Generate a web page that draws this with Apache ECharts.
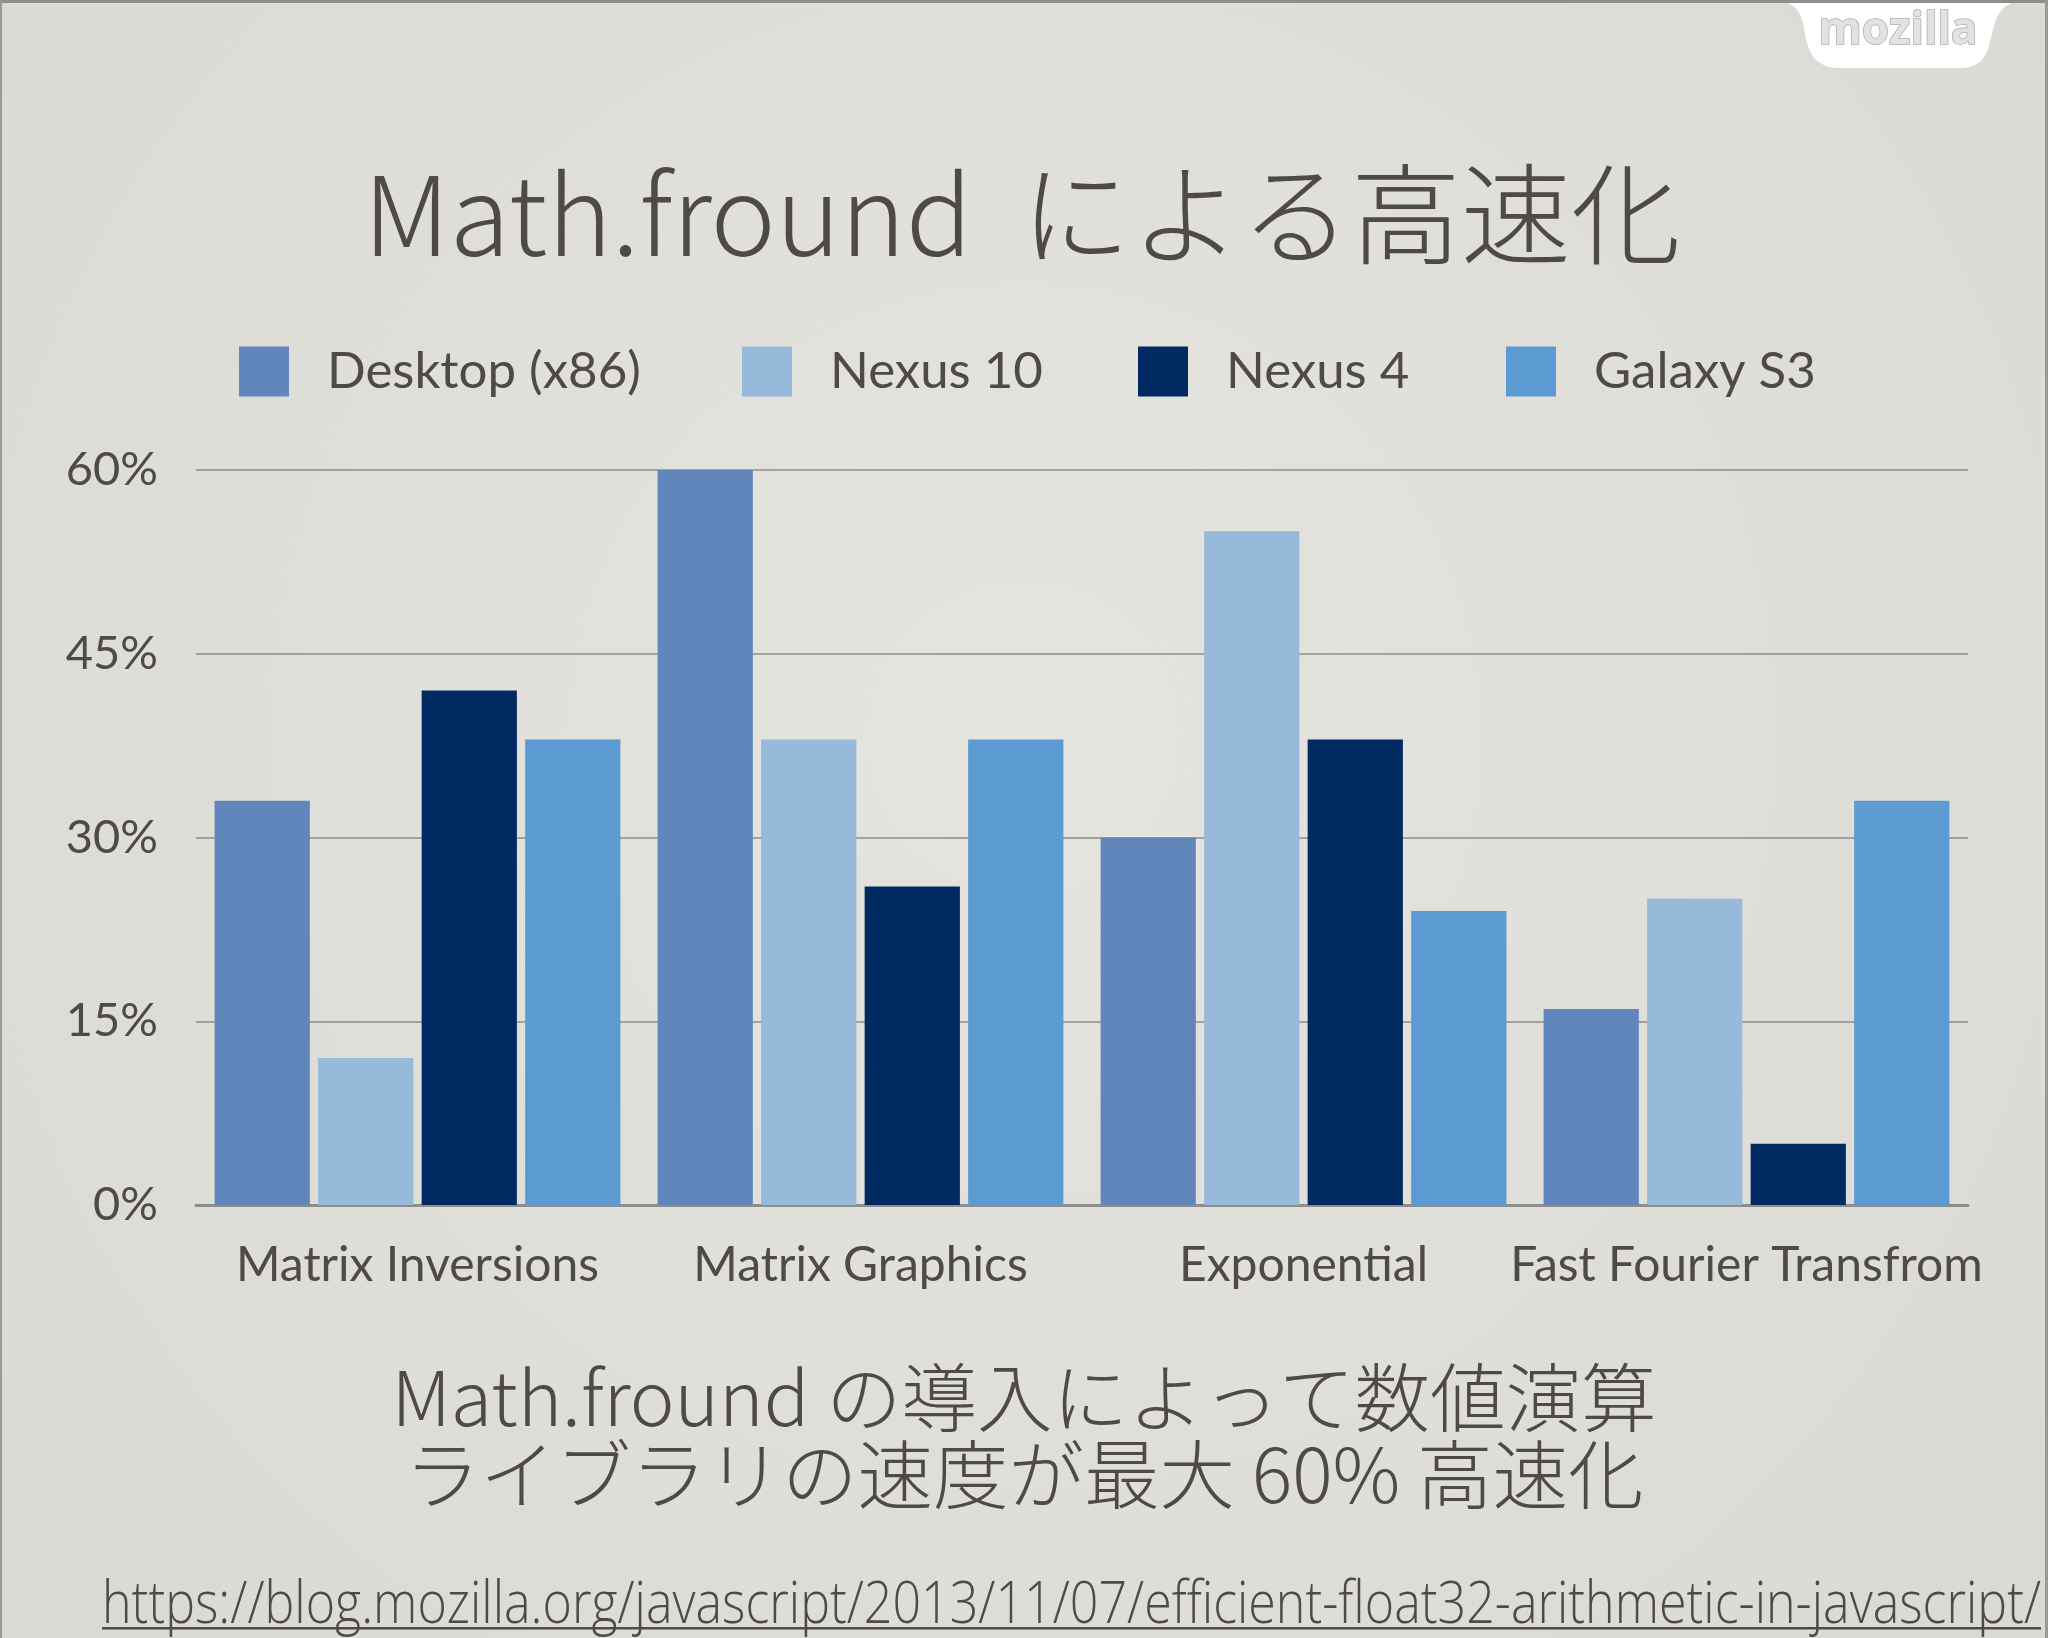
<!DOCTYPE html>
<html>
<head>
<meta charset="utf-8">
<style>
  html, body { margin: 0; padding: 0; width: 2048px; height: 1638px; overflow: hidden; background: #E1DFD9; }
  #chart { width: 2048px; height: 1638px; }
</style>
<script src="https://cdn.jsdelivr.net/npm/echarts@6/dist/echarts.min.js"></script>
</head>
<body>
<div id="chart"></div>
<script>
const categories = ['Matrix Inversions', 'Matrix Graphics', 'Exponential', 'Fast Fourier Transfrom'];
const seriesNames = ['Desktop (x86)', 'Nexus 10', 'Nexus 4', 'Galaxy S3'];
const desktop = [33, 60, 30, 16];
const nexus10 = [12, 38, 55, 25];
const nexus4 = [42, 26, 38, 5];
const galaxyS3 = [38, 38, 24, 33];
const seriesValues = [desktop, nexus10, nexus4, galaxyS3];
const yMin = 0, yMax = 60, yStep = 15;

const titleText = 'Math.fround  による高速化';
const subtitleText = 'Math.fround の導入によって数値演算\nライブラリの速度が最大 60% 高速化';
const urlText = 'https://blog.mozilla.org/javascript/2013/11/07/efficient-float32-arithmetic-in-javascript/';

const colors = ['#6186BC', '#97B9DA', '#012A62', '#5C9BD2'];
const textColor = '#4D4A47';
const latin = 'Lato, "Noto Sans", sans-serif';
const cjk = '"Noto Sans CJK JP", "Noto Sans", sans-serif';

const mctx = document.createElement('canvas').getContext('2d');
mctx.font = '300 58px "Open Sans"';
const urlW = mctx.measureText(urlText).width || 2600;
const urlScale = 1939 / urlW;

function cubic(p0, p1, p2, p3, n) {
  const pts = [];
  for (let i = 0; i <= n; i++) {
    const t = i / n, u = 1 - t;
    pts.push([
      u*u*u*p0[0] + 3*u*u*t*p1[0] + 3*u*t*t*p2[0] + t*t*t*p3[0],
      u*u*u*p0[1] + 3*u*u*t*p1[1] + 3*u*t*t*p2[1] + t*t*t*p3[1]
    ]);
  }
  return pts;
}
const tabPts = [].concat(
  cubic([1768, 0], [1794, 0], [1801, 10], [1804, 28], 12),
  cubic([1804, 28], [1806, 40], [1807, 44], [1808, 46], 2),
  cubic([1808, 46], [1812, 61], [1824, 68], [1840, 68], 12),
  cubic([1960, 68], [1975, 68], [1985, 61], [1989, 46], 12),
  cubic([1989, 46], [1991, 38], [1992, 32], [1994, 26], 2),
  cubic([1994, 26], [1998, 10], [2006, 0], [2032, 0], 12)
);

const legendLefts = [239, 742, 1138, 1506];

const chart = echarts.init(document.getElementById('chart'));
chart.setOption({
  animation: false,
  backgroundColor: {
    type: 'radial', x: 0.5, y: 0.45, r: 0.8,
    colorStops: [{ offset: 0, color: '#E6E4DF' }, { offset: 1, color: '#DBD9D3' }]
  },
  legend: seriesNames.map((n, i) => ({
    data: [n],
    left: legendLefts[i],
    top: 346,
    padding: 0,
    icon: 'rect',
    itemWidth: 50,
    itemHeight: 50,
    textStyle: { color: textColor, fontSize: 51, fontFamily: latin, padding: [2, 0, 0, 33] },
    selectedMode: false
  })),
  grid: { left: 196, right: 80, top: 470, bottom: 433, containLabel: false },
  xAxis: {
    type: 'category',
    data: categories,
    axisLine: { lineStyle: { color: '#8E8D8A', width: 3 } },
    axisTick: { show: false },
    axisLabel: { color: textColor, fontSize: 48, fontFamily: latin, margin: 37, interval: 0 }
  },
  yAxis: {
    type: 'value',
    min: yMin, max: yMax, interval: yStep,
    axisLine: { show: false },
    axisTick: { show: false },
    axisLabel: { formatter: '{value}%', color: textColor, fontSize: 47, fontFamily: latin, margin: 38 },
    splitLine: { lineStyle: { color: '#8E8D8A', width: 1.5 } }
  },
  series: seriesNames.map((n, i) => ({
    name: n,
    type: 'bar',
    data: seriesValues[i],
    itemStyle: { color: colors[i] },
    barCategoryGap: '8.4%',
    barGap: '8.7%'
  })),
  graphic: [
    { type: 'rect', shape: { x: 0, y: 0, width: 2048, height: 3 }, style: { fill: '#8F8E8A' }, z: 100 },
    { type: 'rect', shape: { x: 0, y: 0, width: 2, height: 1638 }, style: { fill: '#9A9995' }, z: 100 },
    { type: 'rect', shape: { x: 2045, y: 0, width: 3, height: 1638 }, style: { fill: '#9A9995' }, z: 100 },
    { type: 'polygon', z: 90, shape: { points: tabPts }, style: { fill: '#FFFFFF' } },
    {
      type: 'text', z: 95, x: 1898, y: 31,
      style: { text: 'mozilla', fill: '#E2E2E0', stroke: '#ABABA9', lineWidth: 1.5, fontSize: 44, fontWeight: 'bold', fontFamily: '"Open Sans", Lato, sans-serif', align: 'center', verticalAlign: 'middle' }
    },
    {
      type: 'text', x: 1022, y: 214,
      style: { text: titleText, fill: textColor, fontSize: 110, fontWeight: 300, fontFamily: cjk, align: 'center', verticalAlign: 'middle' }
    },
    {
      type: 'text', x: 1024, y: 1436,
      style: { text: subtitleText, fill: textColor, fontSize: 75.5, fontWeight: 300, lineHeight: 77, fontFamily: cjk, align: 'center', verticalAlign: 'middle' }
    },
    {
      type: 'text', x: 102, y: 1606, scaleX: urlScale, originX: 0,
      style: { text: urlText, fill: textColor, fontSize: 58, fontWeight: 300, fontFamily: '"Open Sans", sans-serif', align: 'left', verticalAlign: 'middle' }
    },
    { type: 'rect', shape: { x: 102, y: 1627, width: 1939, height: 2.5 }, style: { fill: textColor } }
  ]
});
</script>
</body>
</html>
